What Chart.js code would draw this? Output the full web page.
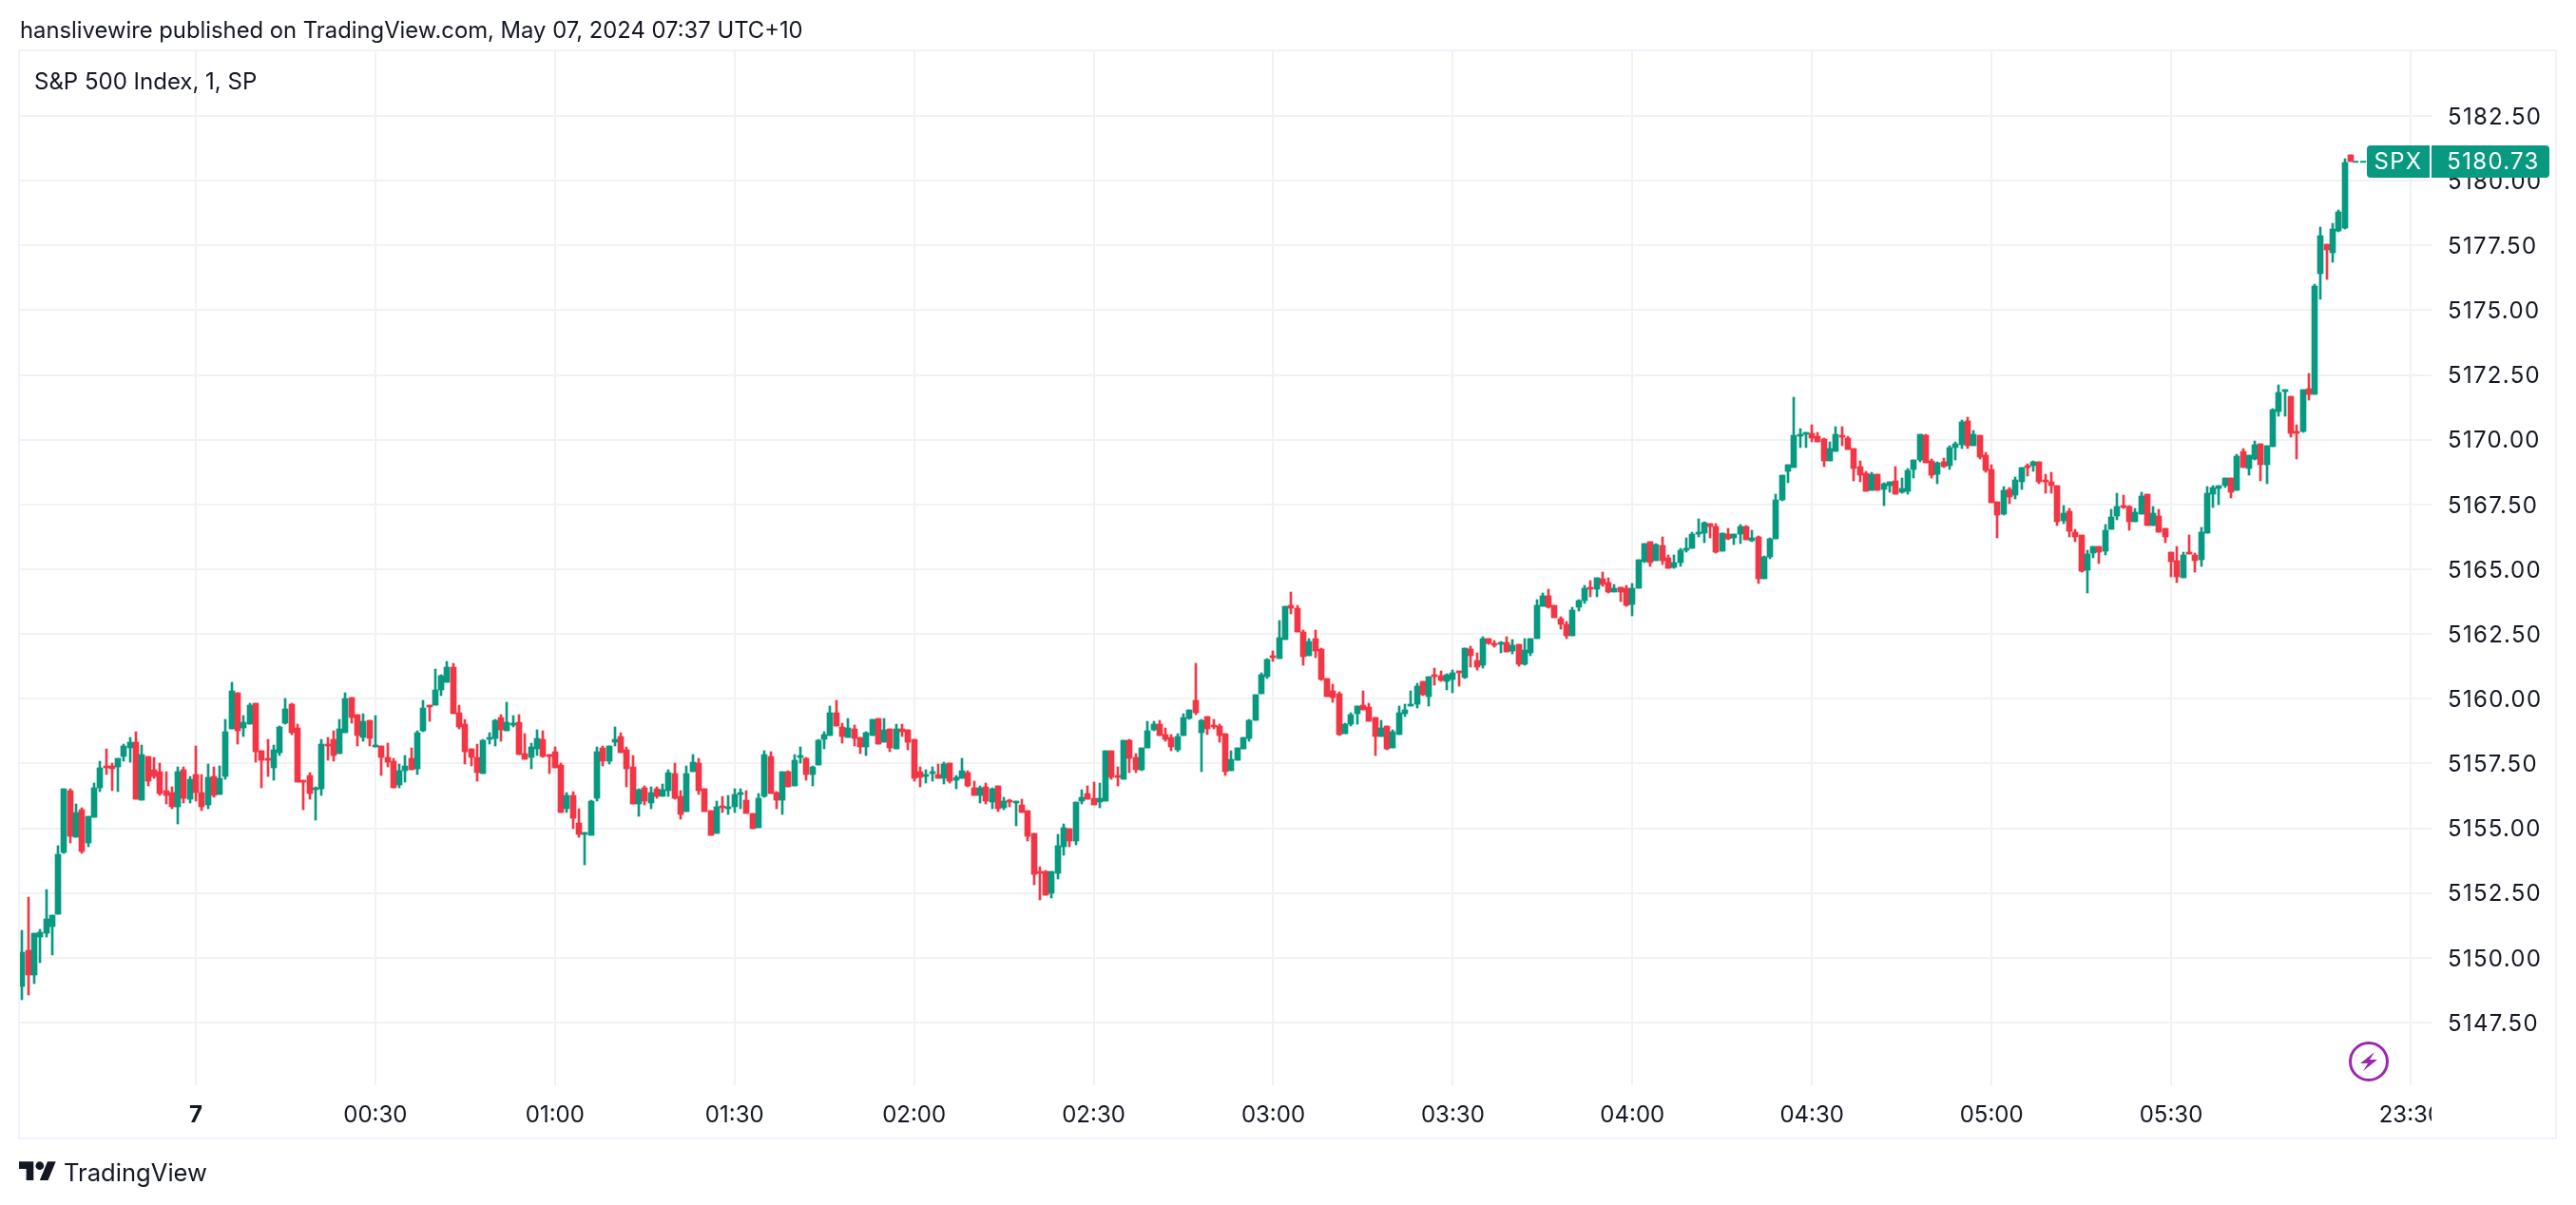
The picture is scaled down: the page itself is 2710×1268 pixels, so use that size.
<!DOCTYPE html>
<html><head><meta charset="utf-8"><title>S&amp;P 500 Index, 1, SP</title>
<script src="https://cdn.jsdelivr.net/npm/chart.js@4"></script>
<style>
html,body{margin:0;padding:0;background:#fff;width:2710px;height:1268px;overflow:hidden}
body{position:relative;font-family:Inter,"Noto Sans",sans-serif;color:#131722}
#c{position:absolute;left:0;top:0}
.frame{position:absolute;left:19px;top:52px;width:2667px;height:1143px;border:2px solid #f0f3fa;pointer-events:none}
.t{position:absolute;white-space:nowrap;line-height:1}
</style></head><body>
<canvas id="c" width="2710" height="1268"></canvas>
<div class="frame"></div>
<div class="t" style="left:21px;top:20px;font-size:23.8px">hanslivewire published on TradingView.com, May 07, 2024 07:37 UTC+10</div>
<div class="t" style="left:36px;top:74px;font-size:24px">S&amp;P 500 Index, 1, SP</div>
<svg style="position:absolute;left:20px;top:1217.6px" width="39.3" height="30.5" viewBox="0 0 36 28"><path fill="#131722" d="M14 22H7V11H0V4h14v18zM28 22h-8l7.5-18h8L28 22z"/><circle fill="#131722" cx="20" cy="8" r="4"/></svg>
<div class="t" style="left:67px;top:1221px;font-size:25.6px">TradingView</div>
<svg style="position:absolute;left:2471px;top:1096px" width="42" height="42" viewBox="0 0 42 42"><circle cx="21" cy="21" r="19.5" fill="none" stroke="#9c27b0" stroke-width="3"/><path fill="#9c27b0" d="M27 11 12 23h8l-5 8 15-12h-8z"/></svg>
<script>
const opens=[5148.88,5150.28,5149.32,5150.79,5150.94,5151.19,5151.67,5154.05,5156.44,5154.64,
5155.71,5154.42,5155.41,5156.55,5157.39,5157.39,5157.36,5157.76,5158.09,5158.31,
5156.07,5157.76,5157.25,5157.17,5156.44,5156.37,5155.82,5157.25,5156.11,5157.06,
5156.37,5155.89,5156.99,5156.29,5156.99,5158.82,5160.22,5158.86,5159.01,5159.81,
5157.98,5157.69,5157.32,5157.91,5159.04,5159.78,5158.86,5156.84,5157.03,5156.48,
5156.51,5158.24,5158.42,5157.87,5158.68,5160.03,5159.37,5158.49,5159.15,5158.13,
5158.17,5157.73,5157.58,5156.67,5157.22,5157.69,5157.29,5158.76,5159.75,5159.75,
5160.33,5160.63,5161.21,5159.45,5159.01,5158.06,5157.73,5157.11,5158.43,5158.46,
5159.27,5158.76,5158.98,5159.09,5157.88,5157.73,5158.06,5158.43,5157.84,5157.95,
5157.44,5155.75,5156.26,5155.20,5154.76,5154.72,5156.15,5158.10,5157.58,5158.32,
5158.54,5158.02,5157.36,5155.93,5156.56,5155.97,5156.52,5156.23,5156.45,5157.11,
5156.23,5155.64,5157.18,5157.51,5156.52,5155.68,5154.79,5155.86,5155.75,5155.82,
5156.30,5156.08,5155.57,5155.01,5156.22,5157.76,5156.37,5156.08,5157.18,5156.63,
5157.73,5157.69,5157.07,5157.43,5158.42,5158.57,5159.45,5158.90,5158.50,5158.83,
5158.50,5158.13,5158.57,5159.23,5158.31,5158.83,5158.06,5158.83,5158.79,5158.42,
5157.18,5156.99,5157.10,5157.07,5156.92,5157.51,5156.85,5156.92,5157.14,5156.55,
5156.26,5156.59,5156.00,5156.63,5155.78,5156.08,5155.97,5155.89,5155.67,5154.79,
5153.32,5153.32,5152.48,5153.25,5154.28,5154.98,5154.50,5156.04,5156.33,5156.15,
5156.00,5156.04,5157.98,5157.03,5156.88,5158.39,5157.73,5157.25,5158.10,5158.79,
5159.01,5158.61,5158.50,5158.02,5158.57,5159.23,5159.93,5158.68,5159.31,5158.98,
5158.94,5158.65,5157.22,5157.62,5158.06,5158.46,5159.16,5160.19,5160.85,5161.65,
5161.54,5162.28,5163.60,5163.49,5162.57,5161.65,5162.31,5161.91,5160.77,5160.30,
5160.19,5158.65,5159.01,5159.42,5159.75,5159.67,5159.27,5158.54,5158.94,5158.10,
5158.61,5159.42,5159.71,5159.78,5160.66,5160.08,5160.92,5160.88,5160.66,5160.74,
5161.07,5160.81,5161.91,5161.47,5161.29,5162.31,5162.13,5162.09,5162.17,5161.84,
5162.09,5161.33,5161.77,5162.32,5163.57,5163.97,5163.61,5163.09,5162.87,5162.43,
5163.53,5163.79,5164.30,5164.23,5164.63,5164.49,5164.12,5164.30,5164.27,5163.64,
5164.27,5165.29,5166.06,5165.33,5165.92,5165.44,5165.07,5165.26,5165.73,5165.81,
5166.36,5166.39,5166.76,5166.65,5165.70,5166.36,5166.21,5166.36,5166.65,5166.10,
5166.25,5164.63,5165.48,5166.17,5167.69,5168.79,5168.94,5170.15,5170.22,5170.26,
5170.15,5170.04,5169.19,5169.56,5170.18,5170.07,5169.67,5168.97,5168.72,5168.06,
5168.68,5168.09,5168.24,5168.42,5167.98,5168.02,5168.86,5169.23,5170.18,5169.19,
5168.68,5169.16,5169.01,5169.71,5169.82,5170.73,5169.78,5170.18,5169.41,5168.86,
5167.62,5167.14,5168.09,5167.87,5168.39,5169.01,5169.01,5169.16,5168.46,5168.39,
5168.24,5166.88,5167.25,5166.44,5166.33,5164.97,5165.64,5165.89,5165.71,5166.55,
5167.07,5167.47,5167.43,5166.85,5167.14,5167.91,5166.70,5167.07,5166.59,5165.67,
5165.34,5164.68,5165.67,5165.56,5165.38,5166.41,5167.91,5168.13,5168.24,5168.53,
5168.06,5169.56,5168.90,5169.27,5169.85,5169.05,5169.74,5171.10,5171.86,5171.68,
5170.32,5170.32,5171.97,5171.75,5176.41,5177.55,5177.22,5178.06,5178.17,5180.99];
const highs=[5151.05,5152.33,5150.94,5151.08,5152.62,5151.63,5154.31,5156.51,5156.51,5155.93,
5155.78,5155.45,5156.73,5157.58,5158.05,5157.50,5157.69,5158.24,5158.49,5158.71,
5158.20,5157.76,5157.72,5157.50,5157.17,5156.59,5157.36,5157.36,5156.99,5158.16,
5157.06,5157.47,5157.36,5157.39,5159.19,5160.62,5160.22,5159.34,5159.81,5159.81,
5157.98,5158.42,5158.20,5158.93,5160.00,5159.81,5159.01,5156.84,5157.14,5156.59,
5158.42,5158.49,5158.75,5159.19,5160.22,5160.03,5159.37,5159.41,5159.15,5159.34,
5158.17,5158.28,5157.69,5157.47,5157.80,5158.10,5158.76,5159.93,5159.75,5161.14,
5160.92,5161.43,5161.36,5159.75,5159.20,5158.06,5158.24,5158.43,5158.68,5159.20,
5159.38,5159.86,5159.34,5159.38,5158.65,5158.28,5158.79,5158.76,5157.84,5158.13,
5157.51,5156.37,5156.41,5155.75,5154.83,5156.08,5158.13,5158.17,5158.17,5158.90,
5158.68,5158.13,5157.80,5156.52,5156.63,5156.59,5156.59,5156.70,5157.25,5157.51,
5156.45,5157.40,5157.84,5157.69,5156.52,5155.68,5156.04,5156.23,5156.26,5156.52,
5156.52,5156.45,5155.57,5156.34,5157.98,5157.95,5156.41,5157.18,5157.21,5157.84,
5158.13,5157.73,5157.40,5158.42,5158.72,5159.71,5159.93,5159.05,5159.23,5158.97,
5158.50,5158.72,5159.19,5159.23,5159.23,5158.83,5159.01,5159.01,5158.79,5158.42,
5157.36,5157.25,5157.36,5157.47,5157.54,5157.51,5157.03,5157.69,5157.21,5156.81,
5156.63,5156.74,5156.55,5156.63,5156.19,5156.11,5156.04,5156.11,5155.67,5154.79,
5153.51,5153.36,5153.32,5154.76,5155.16,5154.98,5156.00,5156.48,5156.63,5156.77,
5156.74,5157.98,5157.98,5157.36,5158.39,5158.42,5157.87,5158.10,5159.12,5159.12,
5159.16,5158.87,5158.61,5158.65,5159.42,5159.56,5161.36,5159.20,5159.31,5159.20,
5159.01,5158.65,5157.99,5158.10,5158.50,5159.20,5160.15,5160.99,5161.54,5161.84,
5163.01,5163.57,5164.12,5163.60,5162.64,5162.31,5162.64,5161.95,5160.77,5160.55,
5160.26,5159.05,5159.45,5159.71,5160.30,5159.82,5159.27,5159.16,5158.94,5158.79,
5159.71,5159.78,5160.30,5160.59,5160.66,5160.85,5161.18,5161.07,5160.96,5161.10,
5161.07,5161.95,5162.02,5161.76,5162.39,5162.31,5162.24,5162.20,5162.39,5162.28,
5162.09,5162.32,5162.32,5163.83,5164.08,5164.23,5163.61,5163.17,5162.98,5163.53,
5163.83,5164.38,5164.56,5164.67,5164.89,5164.67,5164.41,5164.30,5164.38,5164.45,
5165.37,5165.99,5166.06,5165.99,5166.25,5165.55,5165.55,5165.81,5166.21,5166.43,
5166.94,5166.83,5166.76,5166.76,5166.39,5166.58,5166.36,5166.72,5166.69,5166.50,
5166.28,5165.51,5166.21,5167.90,5168.64,5169.05,5171.65,5170.44,5170.29,5170.59,
5170.29,5170.07,5169.93,5170.51,5170.51,5170.15,5169.67,5169.19,5168.79,5168.75,
5168.68,5168.35,5168.39,5168.97,5168.53,5168.90,5169.23,5170.22,5170.22,5169.27,
5169.16,5169.30,5169.78,5169.93,5170.77,5170.88,5170.37,5170.18,5169.52,5169.05,
5167.62,5168.20,5168.17,5168.57,5168.94,5169.08,5169.19,5169.16,5168.68,5168.75,
5168.24,5167.47,5167.36,5166.55,5166.33,5165.75,5165.89,5165.89,5166.74,5167.32,
5167.95,5167.87,5167.47,5167.36,5167.98,5167.91,5167.43,5167.32,5166.59,5165.67,
5165.89,5165.67,5166.33,5165.64,5166.63,5168.20,5168.24,5168.24,5168.53,5168.53,
5169.45,5169.67,5169.41,5169.96,5169.85,5169.78,5171.21,5172.13,5171.93,5171.68,
5170.58,5171.93,5172.56,5176.01,5178.21,5177.55,5178.35,5178.87,5180.85,5180.99];
const lows=[5148.38,5148.55,5148.99,5149.80,5150.79,5150.09,5151.67,5154.02,5154.42,5154.64,
5154.02,5154.27,5155.41,5156.40,5157.06,5156.44,5156.40,5157.58,5157.54,5156.11,
5156.07,5156.62,5156.92,5156.26,5155.93,5155.74,5155.16,5155.96,5155.96,5156.04,
5155.67,5155.74,5156.18,5156.29,5156.88,5158.82,5158.24,5158.53,5159.01,5157.54,
5156.55,5156.99,5156.84,5157.80,5159.01,5158.60,5156.77,5155.71,5156.11,5155.30,
5156.26,5157.61,5157.58,5157.87,5158.68,5159.04,5158.16,5158.35,5158.16,5158.13,
5157.03,5157.36,5156.56,5156.56,5156.78,5157.25,5157.07,5158.72,5159.12,5159.75,
5160.11,5160.63,5159.42,5158.83,5157.47,5157.40,5156.81,5157.11,5158.24,5158.17,
5158.35,5158.76,5158.90,5157.84,5157.66,5157.29,5157.80,5157.73,5157.11,5157.33,
5155.60,5155.60,5154.98,5154.65,5153.58,5154.72,5156.04,5157.40,5157.47,5158.17,
5157.91,5156.59,5155.93,5155.45,5155.90,5155.75,5156.15,5156.23,5156.23,5156.12,
5155.34,5155.64,5157.18,5156.30,5155.64,5154.72,5154.79,5155.60,5155.53,5155.60,
5155.75,5155.57,5154.98,5155.01,5156.19,5156.33,5155.75,5155.53,5156.59,5156.63,
5157.51,5156.85,5156.63,5157.43,5158.06,5158.57,5158.94,5158.28,5158.50,5158.17,
5157.87,5157.80,5158.57,5158.24,5158.31,5157.95,5158.06,5158.53,5158.02,5156.81,
5156.59,5156.74,5156.81,5156.92,5156.70,5156.74,5156.52,5156.92,5156.59,5156.26,
5155.97,5155.93,5155.75,5155.64,5155.71,5155.82,5155.09,5155.60,5154.50,5152.81,
5152.22,5152.41,5152.30,5153.03,5153.95,5154.28,5154.35,5155.93,5156.11,5155.89,
5155.78,5156.04,5156.88,5156.63,5156.88,5157.14,5157.14,5157.22,5158.10,5158.76,
5158.57,5158.35,5157.99,5157.95,5158.57,5159.20,5159.38,5157.18,5158.61,5158.83,
5158.32,5157.03,5157.22,5157.62,5158.06,5158.35,5159.16,5160.19,5160.77,5161.43,
5161.54,5162.28,5163.27,5162.58,5161.29,5161.65,5161.58,5160.70,5160.08,5159.86,
5158.57,5158.65,5158.94,5159.01,5159.56,5159.12,5157.80,5158.54,5158.02,5158.10,
5158.61,5159.31,5159.71,5159.64,5160.11,5159.71,5160.52,5160.66,5160.33,5160.22,
5160.48,5160.77,5161.21,5161.10,5161.18,5162.09,5161.98,5161.76,5161.80,5161.73,
5161.25,5161.29,5161.66,5162.32,5163.57,5163.50,5163.13,5162.69,5162.32,5162.43,
5163.39,5163.68,5163.94,5163.94,5164.34,5164.08,5164.12,5163.75,5163.57,5163.20,
5164.27,5165.26,5165.11,5165.33,5165.18,5165.04,5165.04,5165.11,5165.66,5165.81,
5166.25,5166.03,5166.21,5165.62,5165.70,5166.14,5165.95,5165.99,5166.14,5166.06,
5164.45,5164.63,5165.40,5166.17,5167.65,5168.35,5168.94,5169.71,5169.71,5169.93,
5169.93,5168.97,5169.19,5169.56,5169.78,5169.63,5168.42,5168.39,5168.02,5168.06,
5168.06,5167.47,5167.98,5167.91,5167.95,5167.91,5168.53,5169.16,5169.12,5168.53,
5168.31,5168.94,5168.86,5169.23,5169.67,5169.67,5169.78,5169.27,5168.75,5167.58,
5166.22,5167.10,5167.54,5167.73,5168.09,5168.61,5168.79,5168.31,5167.95,5167.95,
5166.70,5166.77,5166.26,5166.08,5164.90,5164.09,5165.45,5165.23,5165.56,5166.55,
5166.92,5167.36,5166.52,5166.85,5167.14,5166.70,5166.70,5166.44,5166.04,5164.72,
5164.50,5164.68,5165.60,5164.90,5165.12,5166.41,5167.40,5167.51,5168.17,5167.76,
5168.06,5168.94,5168.64,5169.23,5168.42,5168.31,5169.74,5170.92,5170.91,5170.10,
5169.26,5170.28,5171.53,5171.75,5175.42,5176.19,5176.85,5178.02,5178.13,5180.73];
const closes=[5150.20,5149.32,5150.94,5150.97,5151.49,5151.63,5153.98,5156.51,5154.71,5155.60,
5154.09,5155.45,5156.55,5157.32,5157.32,5157.28,5157.69,5158.16,5158.31,5156.11,
5157.83,5156.81,5156.99,5156.33,5156.26,5155.82,5157.17,5156.15,5156.88,5156.37,
5155.82,5156.95,5156.26,5156.92,5158.71,5160.29,5158.75,5159.08,5159.74,5157.94,
5157.61,5157.61,5158.02,5158.90,5159.59,5158.68,5156.77,5156.77,5156.33,5156.55,
5158.24,5158.16,5157.80,5158.82,5160.00,5159.26,5158.57,5159.12,5158.46,5158.20,
5157.73,5157.55,5156.56,5157.22,5157.40,5157.25,5158.68,5159.64,5159.67,5160.33,
5160.88,5161.21,5159.42,5158.90,5157.95,5157.73,5157.14,5158.39,5158.50,5159.16,
5158.79,5159.09,5159.05,5157.84,5157.66,5158.13,5158.46,5157.77,5157.77,5157.33,
5155.60,5156.26,5155.38,5154.76,5154.83,5156.04,5157.95,5157.58,5158.17,5158.43,
5157.91,5157.29,5155.93,5156.48,5156.04,5156.37,5156.23,5156.48,5157.14,5156.15,
5155.53,5157.11,5157.55,5156.45,5155.64,5154.72,5155.82,5155.79,5155.82,5156.30,
5156.37,5155.57,5154.98,5156.15,5157.84,5156.33,5156.08,5157.18,5156.59,5157.62,
5157.80,5157.07,5157.36,5158.39,5158.61,5159.45,5158.94,5158.53,5158.86,5158.46,
5158.13,5158.68,5159.19,5158.24,5158.79,5158.09,5158.83,5158.72,5158.31,5156.92,
5156.96,5157.07,5157.18,5156.92,5157.47,5156.81,5156.96,5157.21,5156.63,5156.26,
5156.55,5156.04,5156.52,5155.75,5156.04,5156.00,5156.04,5155.60,5154.68,5153.21,
5153.25,5152.41,5153.32,5154.32,5155.01,5154.50,5156.00,5156.19,5156.11,5155.89,
5156.15,5157.98,5156.96,5156.96,5158.39,5157.69,5157.25,5158.10,5158.76,5159.01,
5158.57,5158.43,5158.13,5158.54,5159.27,5159.56,5159.45,5159.16,5158.83,5158.90,
5158.57,5157.18,5157.66,5158.10,5158.50,5159.16,5160.15,5160.92,5161.51,5161.58,
5162.35,5163.57,5163.49,5162.58,5161.62,5162.20,5161.84,5160.74,5160.08,5160.04,
5158.61,5159.01,5159.38,5159.71,5159.56,5159.12,5158.54,5158.87,5158.06,5158.72,
5159.45,5159.56,5159.78,5160.48,5160.15,5160.85,5160.85,5160.70,5160.92,5160.99,
5160.99,5161.95,5161.65,5161.21,5162.31,5162.13,5162.06,5162.17,5161.80,5162.06,
5161.32,5161.88,5162.32,5163.61,5163.97,5163.53,5163.13,5162.87,5162.43,5163.42,
5163.79,5164.27,5164.23,5164.67,5164.41,5164.12,5164.27,5164.12,5163.61,5164.27,
5165.37,5165.99,5165.26,5165.95,5165.33,5165.04,5165.26,5165.73,5165.81,5166.36,
5166.43,5166.80,5166.65,5165.66,5166.39,5166.17,5166.36,5166.65,5166.14,5166.21,
5164.63,5165.48,5166.17,5167.68,5168.64,5169.05,5170.18,5170.22,5170.29,5170.07,
5169.93,5169.19,5169.67,5170.22,5170.11,5169.63,5168.90,5168.64,5168.02,5168.68,
5168.06,5168.31,5168.39,5167.91,5168.13,5168.83,5169.23,5170.22,5169.12,5168.64,
5169.12,5168.97,5169.71,5169.85,5170.70,5169.78,5170.22,5169.34,5168.83,5167.58,
5167.10,5168.06,5167.80,5168.46,5168.94,5168.94,5169.16,5168.39,5168.39,5168.24,
5166.85,5167.18,5166.48,5166.26,5164.94,5165.60,5165.89,5165.67,5166.52,5167.03,
5167.43,5167.40,5166.85,5167.21,5167.84,5166.70,5167.18,5166.44,5166.26,5165.31,
5164.72,5165.56,5165.60,5165.34,5166.44,5167.95,5168.17,5168.24,5168.53,5167.98,
5169.38,5168.94,5169.41,5169.82,5169.05,5169.78,5171.17,5171.83,5171.93,5170.25,
5170.25,5171.93,5171.75,5175.93,5177.88,5177.33,5178.13,5178.79,5180.70,5180.73];
const priceTicks=[5147.5,5150,5152.5,5155,5157.5,5160,5162.5,5165,5167.5,5170,5172.5,5175,5177.5,5180,5182.5];
const timeTickBars=[29,59,89,119,149,179,209,239,269,299,329,359,399];
const timeTickLabels=['7','00:30','01:00','01:30','02:00','02:30','03:00','03:30','04:00','04:30','05:00','05:30','23:30'];
const lastPrice=5180.73, symbol='SPX';
const UP='#089981', DOWN='#f23645', GRID='#f2f2f4', TEXT='#131722';
const FONT='Inter, "Noto Sans", sans-serif';

const colors=closes.map((c,i)=>c<opens[i]?DOWN:UP);
const wicks=lows.map((l,i)=>({x:i,y:[l,highs[i]]}));
const bodies=opens.map((o,i)=>({x:i,y:[Math.min(o,closes[i]),Math.max(o,closes[i])]}));
const lastBar=opens.length-1;

const snapBars={id:'snapBars',beforeDatasetsDraw(chart){
  [0,1].forEach(d=>chart.getDatasetMeta(d).data.forEach(el=>{
    el.x=Math.round(el.x); el.y=Math.round(el.y); el.base=Math.round(el.base);
  }));
}};
const priceTag={id:'priceTag',afterDraw(chart){
  const c=chart.ctx, y=Math.round(chart.scales.y.getPixelForValue(lastPrice));
  const xr=chart.chartArea.right;
  c.save();
  c.fillStyle='#fff'; c.fillRect(xr,chart.chartArea.bottom,128,52);
  c.fillStyle=UP;
  c.beginPath(); c.roundRect(xr-68,y-17,66,34,[4,0,0,4]); c.fill();
  c.beginPath(); c.roundRect(xr,y-17,124,34,[0,4,4,0]); c.fill();
  c.fillStyle='#fff'; c.textBaseline='middle'; c.textAlign='center';
  c.font='24px '+FONT;
  c.letterSpacing='1.3px';
  c.fillText(symbol,xr-35,y+1);
  c.fillText(lastPrice.toFixed(2),xr+65,y+1);
  c.letterSpacing='0px';
  c.restore();
}};
// price-axis labels are wider-set and sit a little lower than the canvas default
function spacePriceLabels(s){
  if(s._spaced) return; s._spaced=true;
  const draw=s.drawLabels;
  s.drawLabels=function(a){
    const c=this.ctx; c.save(); c.letterSpacing='1.3px'; c.translate(0,1.5);
    draw.call(this,a); c.letterSpacing='0px'; c.restore();
  };
}

new Chart(document.getElementById('c'),{
  type:'bar',
  data:{datasets:[
    {data:wicks,backgroundColor:colors,barThickness:2,grouped:false,order:2,borderWidth:0},
    {data:bodies,backgroundColor:colors,barThickness:6,grouped:false,order:1,borderWidth:0},
    {type:'line',data:[{x:lastBar+0.35,y:lastPrice},{x:lastBar+3,y:lastPrice}],borderColor:UP,borderWidth:2,borderDash:[6,2],pointRadius:0,order:3}
  ]},
  options:{
    responsive:false,animation:false,devicePixelRatio:1,
    layout:{padding:{left:20,top:54,right:0,bottom:0}},
    plugins:{legend:{display:false},tooltip:{enabled:false},title:{display:false}},
    scales:{
      x:{type:'linear',offset:false,min:-0.54,max:402.51,
        grid:{offset:false,color:GRID,lineWidth:2,drawTicks:false},border:{display:false},
        afterBuildTicks(s){s.ticks=timeTickBars.map(v=>({value:v}));},
        afterFit(s){s.height=126;},
        ticks:{autoSkip:false,maxRotation:0,minRotation:0,padding:17,color:TEXT,
          callback(v){return timeTickLabels[timeTickBars.indexOf(v)];},
          font(ctx){return {family:FONT,size:24,weight:ctx.index===0?'700':'400'};}}
      },
      y:{type:'linear',position:'right',min:5145.08,max:5184.995,
        grid:{color:GRID,lineWidth:2,drawTicks:false},border:{display:false},
        afterBuildTicks(s){s.ticks=priceTicks.map(v=>({value:v}));},
        afterFit(s){s.width=152; spacePriceLabels(s);},
        ticks:{padding:17,color:TEXT,align:'center',crossAlign:'near',font:{family:FONT,size:24},
          callback(v){return Number(v).toFixed(2);}}
      }
    }
  },
  plugins:[snapBars,priceTag]
});
</script>
</body></html>
